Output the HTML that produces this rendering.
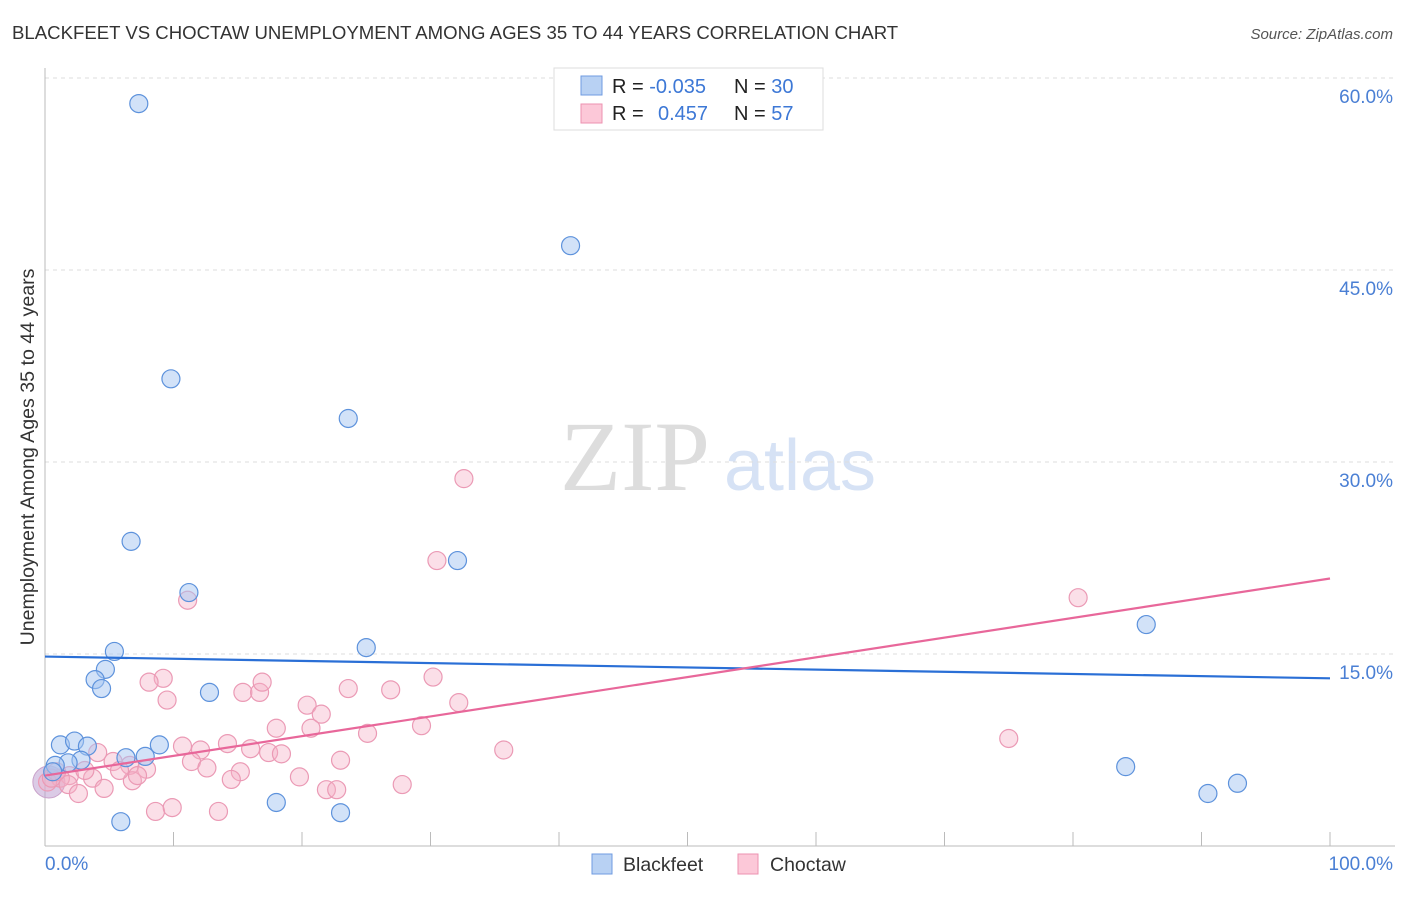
<!DOCTYPE html>
<html><head><meta charset="utf-8"><style>
body{margin:0;background:#fff;font-family:"Liberation Sans",sans-serif}
svg text{font-family:"Liberation Sans",sans-serif}
</style></head><body>
<svg id="chart" width="1406" height="892" xmlns="http://www.w3.org/2000/svg">
<text x="12" y="39" font-size="18.6" fill="#333">BLACKFEET VS CHOCTAW UNEMPLOYMENT AMONG AGES 35 TO 44 YEARS CORRELATION CHART</text>
<text x="1393" y="39" font-size="15" fill="#555" text-anchor="end" font-style="italic">Source: ZipAtlas.com</text>
<g>
<text x="635" y="490" font-size="100" fill="#ddd" text-anchor="middle" font-family="Liberation Serif" style="font-family:'Liberation Serif',serif">ZIP</text>
<text x="800" y="490" font-size="72" fill="#d6e2f5" text-anchor="middle">atlas</text>
</g>
<g id="grid"></g>
<g id="axes"></g>
<g id="pts"></g>
<g id="trends"></g>
<text transform="translate(34,457) rotate(-90)" font-size="19.6" fill="#333" text-anchor="middle">Unemployment Among Ages 35 to 44 years</text>
<text x="45" y="870" font-size="19" fill="#4a7fd4">0.0%</text>
<text x="1393" y="870" font-size="19" fill="#4a7fd4" text-anchor="end">100.0%</text>
<g>
<rect x="554" y="68" width="269" height="62" fill="#fff" stroke="#ddd"/>
<rect x="581" y="76" width="21" height="19" fill="#b8d1f3" stroke="#6f9be0"/>
<rect x="581" y="104" width="21" height="19" fill="#fcc8d8" stroke="#ec92b0"/>
<text x="612" y="93" font-size="20" fill="#222">R = <tspan fill="#3d78d6">-0.035</tspan></text>
<text x="734" y="93" font-size="20" fill="#222">N = <tspan fill="#3d78d6">30</tspan></text>
<text x="612" y="120" font-size="20" fill="#222">R = <tspan fill="#3d78d6" x="658">0.457</tspan></text>
<text x="734" y="120" font-size="20" fill="#222">N = <tspan fill="#3d78d6">57</tspan></text>
</g>
<g>
<rect x="592" y="854" width="20" height="20" fill="#b8d1f3" stroke="#6f9be0"/>
<text x="623" y="871" font-size="19.5" fill="#333">Blackfeet</text>
<rect x="738" y="854" width="20" height="20" fill="#fcc8d8" stroke="#ec92b0"/>
<text x="770" y="871" font-size="19.5" fill="#333">Choctaw</text>
</g>
</svg>
<script>
const yTicks=[15,30,45,60];
const yTickLabels=["15.0%","30.0%","45.0%","60.0%"];
const xTicks=[0,10,20,30,40,50,60,70,80,90,100];
const blackX=[7.3,40.9,9.8,23.6,6.7,32.1,11.2,5.4,25.0,4.7,3.9,4.4,12.8,85.7,1.2,2.3,3.3,8.9,7.8,6.3,2.8,1.8,0.8,0.6,84.1,18.0,90.5,92.8,5.9,23.0];
const blackY=[58.0,46.9,36.5,33.4,23.8,22.3,19.8,15.2,15.5,13.8,13.0,12.3,12.0,17.3,7.9,8.2,7.8,7.9,7.0,6.9,6.7,6.5,6.3,5.8,6.2,3.4,4.1,4.9,1.9,2.6];
const choX=[32.6,30.5,11.1,80.4,9.2,8.1,9.5,15.4,16.7,16.9,23.6,26.9,30.2,32.2,20.4,21.5,20.7,18.0,29.3,25.1,75.0,35.7,23.0,10.7,12.1,14.2,16.0,17.4,18.4,4.1,5.3,6.6,7.9,11.4,12.6,15.2,19.8,3.7,1.9,1.2,1.8,4.6,2.6,6.8,7.2,14.5,21.9,22.7,27.8,8.6,9.9,13.5,3.1,5.8,0.2,0.5,0.9];
const choY=[28.7,22.3,19.2,19.4,13.1,12.8,11.4,12.0,12.0,12.8,12.3,12.2,13.2,11.2,11.0,10.3,9.2,9.2,9.4,8.8,8.4,7.5,6.7,7.8,7.5,8.0,7.6,7.3,7.2,7.3,6.6,6.3,6.0,6.6,6.1,5.8,5.4,5.3,5.5,5.3,4.8,4.5,4.1,5.1,5.5,5.2,4.4,4.4,4.8,2.7,3.0,2.7,5.9,5.9,5.0,5.3,5.8];
const trendX=[0,100];
const blackTrend=[14.8,13.1];
const choTrend=[5.5,20.9];
const NS="http://www.w3.org/2000/svg";
const X=v=>45+v*12.85, Y=v=>846-v*12.8;
function mk(t,a,p){const e=document.createElementNS(NS,t);for(const k in a)e.setAttribute(k,a[k]);p.appendChild(e);return e;}
const grid=document.getElementById('grid'),axes=document.getElementById('axes'),pts=document.getElementById('pts'),tr=document.getElementById('trends');
yTicks.forEach((v,i)=>{
 const l=mk('line',{x1:45,x2:1395,y1:Y(v),y2:Y(v),stroke:'#ddd','stroke-dasharray':'4,4'},grid);
 
 
 const t=mk('text',{x:1393,y:Y(v)+25,'font-size':19,fill:'#4a7fd4','text-anchor':'end'},grid);
 t.textContent=yTickLabels[i];
 
 
});
let a=mk('line',{x1:45,x2:45,y1:68,y2:846,stroke:'#bbb'},axes);


a=mk('line',{x1:45,x2:1395,y1:846,y2:846,stroke:'#bbb'},axes);


xTicks.forEach(v=>{const t=mk('line',{x1:X(v),x2:X(v),y1:832,y2:846,stroke:'#bbb'},axes);
 
 });
const big=mk('circle',{cx:X(0.3),cy:Y(5.0),r:16,fill:'rgba(190,160,210,0.55)',stroke:'#c9a0c9'},pts);


choX.forEach((v,i)=>{const c=mk('circle',{cx:X(v),cy:Y(choY[i]),r:9,fill:'rgba(246,175,198,0.4)',stroke:'#eb9ab5','stroke-width':1.2},pts);
 
 });
blackX.forEach((v,i)=>{const c=mk('circle',{cx:X(v),cy:Y(blackY[i]),r:9,fill:'rgba(165,198,242,0.5)',stroke:'#5d92dc','stroke-width':1.2},pts);
 
 });
let l=mk('line',{x1:X(trendX[0]),x2:X(trendX[1]),y1:Y(blackTrend[0]),y2:Y(blackTrend[1]),stroke:'#2a6fd6','stroke-width':2.2},tr);


l=mk('line',{x1:X(trendX[0]),x2:X(trendX[1]),y1:Y(choTrend[0]),y2:Y(choTrend[1]),stroke:'#e8679a','stroke-width':2.2},tr);


</script>
</body></html>
